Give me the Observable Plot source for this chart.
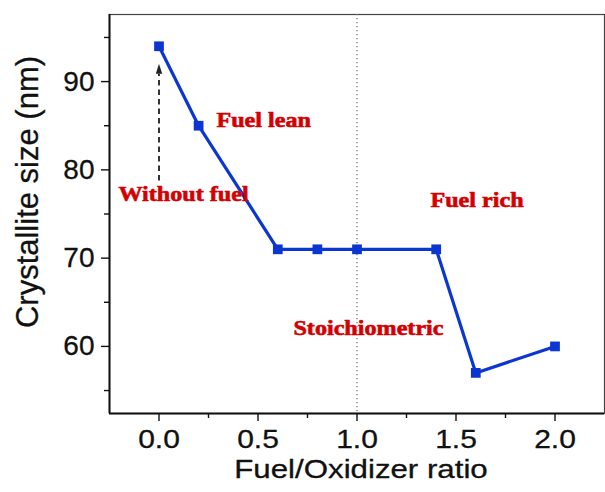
<!DOCTYPE html>
<html>
<head>
<meta charset="utf-8">
<script src="https://cdn.jsdelivr.net/npm/d3@7"></script>
<script src="https://cdn.jsdelivr.net/npm/@observablehq/plot@0.6"></script>
<style>
  html, body { margin: 0; padding: 0; background: #fff; }
  #chart svg { display: block; }
</style>
</head>
<body>
<div id="chart"></div>
<script>
// ---- data ----
const ratio = [0, 0.2, 0.6, 0.8, 1.0, 1.4, 1.6, 2.0];
const sizeNm = [94, 85, 71, 71, 71, 71, 57, 60];

const xTicks = [0, 0.5, 1.0, 1.5, 2.0];
const xMinorTicks = [0.25, 0.75, 1.25, 1.75];
const yTicks = [60, 70, 80, 90];
const yMinorTicks = [55, 65, 75, 85, 95];

const annotText = ["Without fuel", "Fuel lean", "Fuel rich", "Stoichiometric"];
const annotX = [-0.205, 0.29, 1.371, 0.679];
const annotY = [77.2, 85.6, 76.5, 62.0];

const stoichX = [1.0];
const arrowX = [0];
const arrowFrom = [78.8];
const arrowTo = [90.9];

const xLabel = "Fuel/Oxidizer ratio";
const yLabel = "Crystallite size (nm)";

// ---- build ----
const points = ratio.map((r, i) => ({x: r, y: sizeNm[i]}));
const annots = annotText.map((t, i) => ({t, x: annotX[i], y: annotY[i]}));
const arrows = arrowX.map((x, i) => ({x, y1: arrowFrom[i], y2: arrowTo[i]}));

const blue = "#0c36d2";
const red = "#d40000";

const triangleHead = {
  draw(context, l) {
    context.moveTo(0, -l);
    context.lineTo(-3.2, 0);
    context.lineTo(3.2, 0);
    context.closePath();
  }
};

const chart = Plot.plot({
  width: 605,
  height: 492,
  marginLeft: 109,
  marginRight: 1,
  marginTop: 14,
  marginBottom: 79,
  style: {fontFamily: "Liberation Sans, Arial, sans-serif", color: "#111", background: "#fff"},
  x: {domain: [-0.25, 2.25]},
  y: {domain: [52.4, 97.6]},
  marks: [
    Plot.frame({stroke: "#444", strokeWidth: 1.2}),
    Plot.ruleX(stoichX, {stroke: "#777", strokeWidth: 1.3, strokeDasharray: "1.3,2.7"}),
    Plot.axisX(xTicks, {tickSize: 8, tickPadding: 9, fontSize: 25, label: null, strokeWidth: 1.4, tickFormat: d3.format(".1f")}),
    Plot.axisX(xMinorTicks, {tickSize: 5, text: null, label: null, strokeWidth: 1.4}),
    Plot.axisY(yTicks, {tickSize: 8, tickPadding: 7, fontSize: 28, label: null, strokeWidth: 1.4}),
    Plot.axisY(yMinorTicks, {tickSize: 5, text: null, label: null, strokeWidth: 1.4}),
    Plot.ruleX([-0.25], {stroke: "#111", strokeWidth: 2}),
    Plot.ruleY([52.4], {stroke: "#111", strokeWidth: 2}),
    Plot.link(arrows, {x1: "x", x2: "x", y1: "y1", y2: "y2", stroke: "#333", strokeWidth: 2, strokeDasharray: "5.5,4"}),
    Plot.vector(arrows, {x: "x", y: "y2", length: 10, anchor: "start", shape: triangleHead, fill: "#222", stroke: "none"}),
    Plot.line(points, {x: "x", y: "y", stroke: blue, strokeWidth: 3.2}),
    Plot.dot(points, {x: "x", y: "y", symbol: "square", r: 5.5, fill: blue, stroke: "none"}),
    Plot.text(annots, {x: "x", y: "y", text: "t", textAnchor: "start", lineAnchor: "middle", fill: red, stroke: red, strokeWidth: 0.6, fontFamily: "Liberation Serif, Times New Roman, serif", fontWeight: "bold", fontSize: 21}),
    Plot.text([xLabel], {frameAnchor: "bottom", dx: 4, dy: 56, text: d => d, textAnchor: "middle", lineAnchor: "middle", fontSize: 25, fill: "#111", stroke: "#111", strokeWidth: 0.3}),
    Plot.text([yLabel], {frameAnchor: "left", dx: -81, dy: -22, rotate: -90, text: d => d, textAnchor: "middle", lineAnchor: "middle", fontSize: 31, fill: "#111", stroke: "#111", strokeWidth: 0.3})
  ]
});

document.getElementById("chart").appendChild(chart);

// horizontal stretch of horizontally-set texts, to match the reference's wide lettering
// (appended after the text's own translate, so it scales about the text's anchor point)
function stretch(t, s) {
  const tr = t.getAttribute("transform") || "";
  t.setAttribute("transform", `${tr} scale(${s},1)`);
}
chart.querySelectorAll('g[aria-label="x-axis tick label"] text').forEach(t => stretch(t, 1.2));
chart.querySelectorAll('g[aria-label$="tick label"]').forEach(g => { g.setAttribute("stroke", "#111"); g.setAttribute("stroke-width", "0.3"); });
const textGroups = chart.querySelectorAll('g[aria-label="text"]');
textGroups[0].querySelectorAll("text").forEach(t => stretch(t, 1.15));
textGroups[1].querySelectorAll("text").forEach(t => stretch(t, 1.25));
</script>
</body>
</html>
